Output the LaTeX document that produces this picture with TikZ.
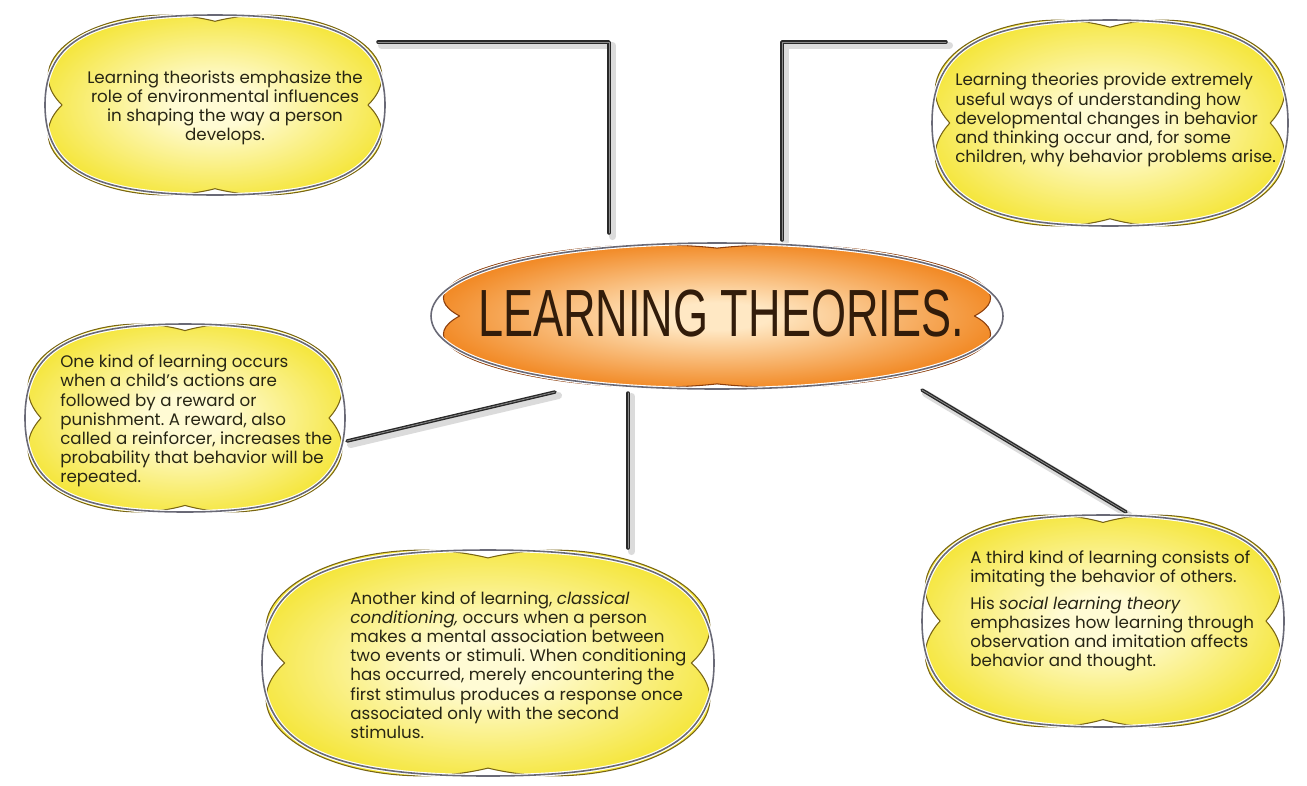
\documentclass[tikz,border=0pt]{standalone}
\usepackage{graphicx}
\usepackage{fontspec}
\setmainfont{Poppins}
\newfontfamily\titlefont{Liberation Sans}
\usetikzlibrary{calc}
\pgfdeclarelayer{bg}\pgfdeclarelayer{mid}\pgfsetlayers{bg,mid,main}
\definecolor{ycen}{RGB}{255,251,212}
\definecolor{yedge}{RGB}{242,224,18}
\definecolor{ocen}{RGB}{255,232,196}
\definecolor{oedge}{RGB}{240,126,18}
\definecolor{yline}{RGB}{120,100,20}
\definecolor{oline}{RGB}{140,62,12}
\definecolor{rimc}{RGB}{105,105,118}
\definecolor{ink}{RGB}{40,38,20}
\definecolor{tink}{RGB}{50,28,10}
\definecolor{wirec}{RGB}{40,40,40}
\pgfdeclareradialshading{yshade}{\pgfpoint{0bp}{0bp}}{color(0bp)=(ycen); color(5bp)=(ycen); color(27bp)=(yedge); color(50bp)=(yedge)}
\pgfdeclareradialshading{oshade}{\pgfpoint{0bp}{0bp}}{color(0bp)=(ocen); color(4bp)=(ocen); color(24bp)=(oedge); color(50bp)=(oedge)}
% lobed fill: #1 q, #2 o, #3 top notch, #4 side notch
\newcommand\lobes[4]{(0,#3) .. controls (#1,#2) and (#2,#1) .. (#4,0) .. controls (#2,-#1) and (#1,-#2) .. (0,-#3) .. controls (-#1,-#2) and (-#2,-#1) .. (-#4,0) .. controls (-#2,#1) and (-#1,#2) .. (0,#3)}
\newcommand\rimpath[1]{(1,0) .. controls (1,#1) and (#1,1) .. (0,1) .. controls (-#1,1) and (-1,#1) .. (-1,0) .. controls (-1,-#1) and (-#1,-1) .. (0,-1) .. controls (#1,-1) and (1,-#1) .. (1,0)}
% #1 cx #2 cy #3 rx #4 ry #5 shading #6 line colour #7 rim k #8 q #9 o
\newcommand\blob[9]{%
\begin{scope}[shift={(#1,#2)},xscale=#3,yscale=-#4]
\shade[shading=#5] \lobes{#8}{#9}{0.93}{0.90} -- cycle;
\draw[#6, line width=0.6pt, line join=round] \lobes{#8}{#9}{0.93}{0.90} -- cycle;
\draw[white, line width=2.2pt] \rimpath{#7} -- cycle;
\draw[rimc, line width=0.9pt] \rimpath{#7} -- cycle;
\end{scope}}
\tikzset{
 wshadow/.style={line width=4pt, draw=black!14, line cap=round, line join=round},
 wmain/.style={line width=2pt, draw=wirec, line cap=round, line join=round},
 whi/.style={line width=0.45pt, draw=black!45, line cap=round, line join=round},
 btxt/.style={font=\fontsize{9.5}{10.9}\selectfont\frenchspacing, text=ink, inner sep=0pt},
 ttxt/.style={font=\titlefont\fontsize{38}{40}\selectfont, text=tink, inner sep=0pt}
}
\newcommand\wire[1]{%
\draw[wshadow, transform canvas={xshift=0.07cm,yshift=-0.07cm}] #1;
\draw[wmain] #1;
\draw[whi] #1;}
\begin{document}
\begin{tikzpicture}[x=0.02cm,y=-0.02cm]
\useasboundingbox (0,0) rectangle (1307,785);

% texts
\node[ttxt] (n0) at (721,314) {\scalebox{0.675}[1]{LEARNING THEORIES.}};
\node[btxt, align=center] (n1) at (225,108) {Learning theorists emphasize the\\role of environmental influences\\in shaping the way a person\\develops.};
\node[btxt, align=left, anchor=west] (n2) at (955,120) {Learning theories provide extremely\\useful ways of understanding how\\developmental changes in behavior\\and thinking occur and, for some\\children, why behavior problems arise.};
\node[btxt, align=left, anchor=west] (n3) at (60,421) {One kind of learning occurs\\when a child's actions are\\followed by a reward or\\punishment. A reward, also\\called a reinforcer, increases the\\probability that behavior will be\\repeated.};
\node[btxt, align=left, anchor=west] (n4) at (350,665) {Another kind of learning, \textit{classical}\\\textit{conditioning,} occurs when a person\\makes a mental association between\\two events or stimuli. When conditioning\\has occurred, merely encountering the\\first stimulus produces a response once\\associated only with the second\\stimulus.};
\node[btxt, align=left, anchor=west] (n5) at (970,611) {A third kind of learning consists of\\imitating the behavior of others.\\[4pt]His \textit{social learning theory}\\emphasizes how learning through\\observation and imitation affects\\behavior and thought.};

\begin{pgfonlayer}{mid}
\blob{717}{316}{286}{73}{oshade}{oline}{0.6}{0.52}{1.15}
\blob{215}{105}{170}{90}{yshade}{yline}{0.72}{0.58}{1.21}
\blob{1110}{123}{178}{103}{yshade}{yline}{0.72}{0.58}{1.21}
\blob{185}{418}{160}{94}{yshade}{yline}{0.72}{0.58}{1.21}
\blob{488}{663}{226}{113}{yshade}{yline}{0.72}{0.58}{1.21}
\blob{1103}{621}{181}{106}{yshade}{yline}{0.72}{0.58}{1.21}
\end{pgfonlayer}

\begin{pgfonlayer}{bg}
\fill[white] (0,0) rectangle (1307,785);
\coordinate (a1) at (378,42);  \coordinate (b1) at (609,233);
\coordinate (a2) at (946,42);  \coordinate (b2) at (782,240);
\coordinate (a3) at (347,441); \coordinate (b3) at (555,392);
\coordinate (a4) at (628,548); \coordinate (b4) at (628,393);
\coordinate (a5) at (1126,512); \coordinate (b5) at (922,390);
\wire{(a1) -| (b1)}
\wire{(a2) -| (b2)}
\wire{(a3) -- (b3)}
\wire{(a4) -- (b4)}
\wire{(a5) -- (b5)}
\end{pgfonlayer}
\end{tikzpicture}
\end{document}
